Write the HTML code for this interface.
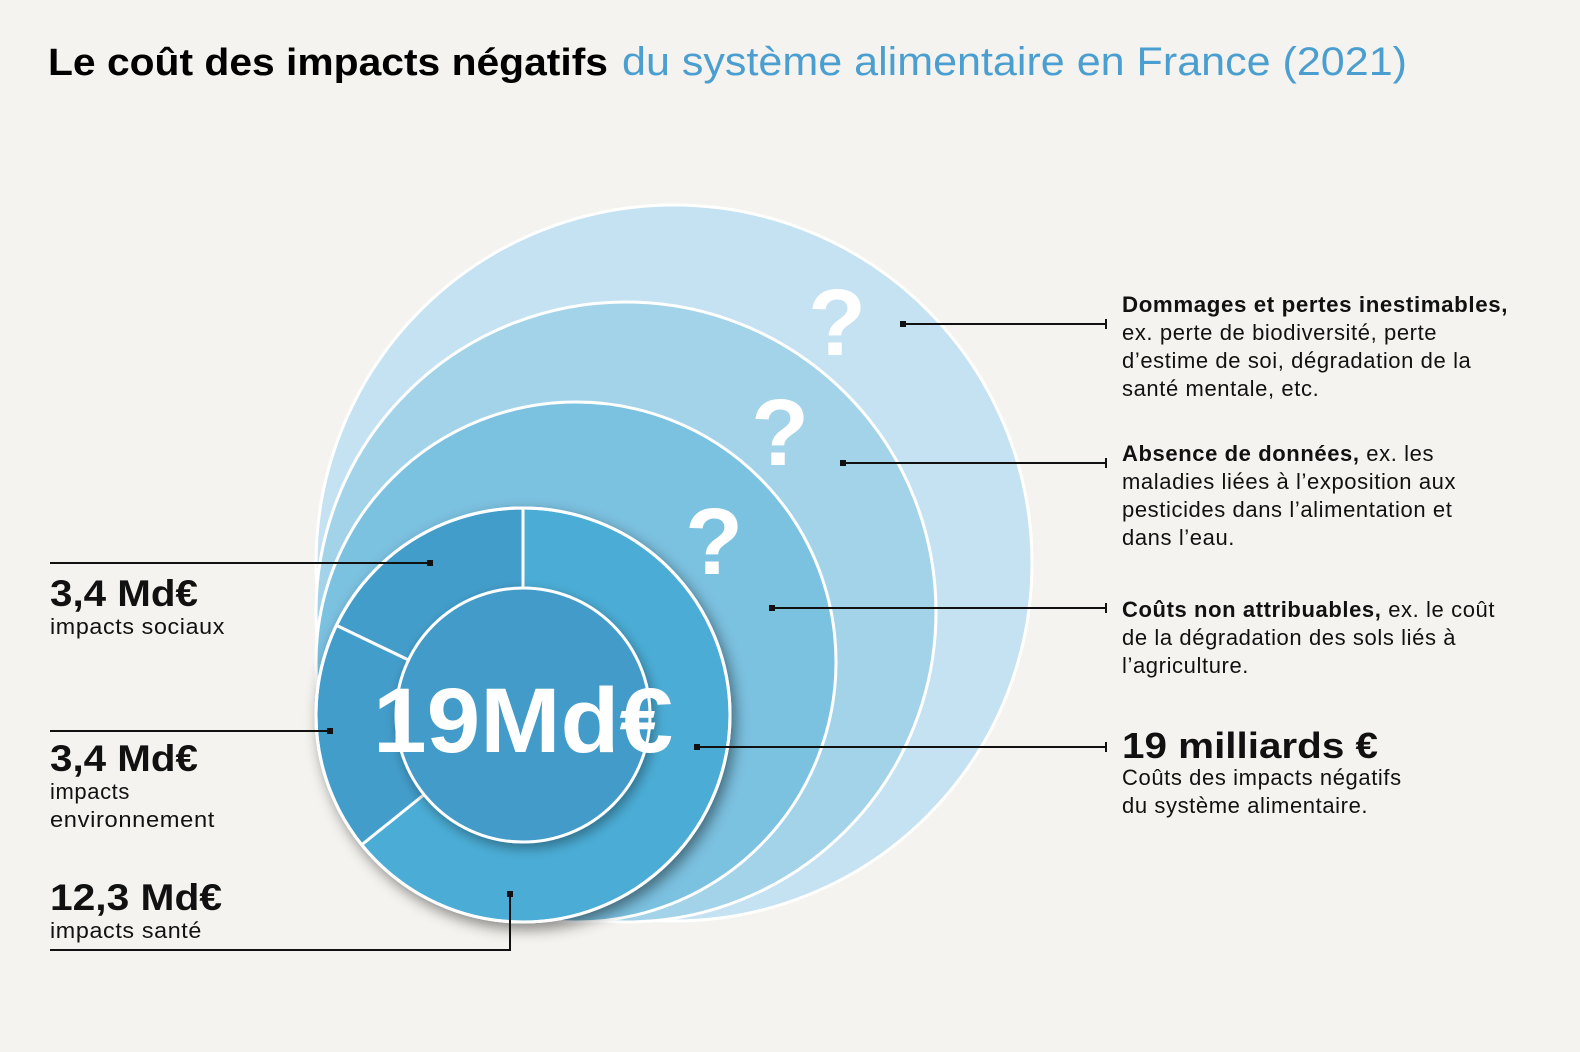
<!DOCTYPE html>
<html><head><meta charset="utf-8"><style>
html,body{margin:0;padding:0;background:#f4f3ef;}
svg{display:block;font-family:"Liberation Sans","DejaVu Sans",sans-serif;}
</style></head><body>
<svg width="1580" height="1052" viewBox="0 0 1580 1052">
<defs>
<filter id="sh" x="-30%" y="-30%" width="160%" height="160%"><feDropShadow dx="4" dy="6" stdDeviation="7" flood-color="#000" flood-opacity="0.45"/></filter>
<filter id="sh2" x="-30%" y="-30%" width="160%" height="160%"><feDropShadow dx="3" dy="5" stdDeviation="6" flood-color="#000" flood-opacity="0.35"/></filter>
</defs>
<rect width="1580" height="1052" fill="#f4f3ef"/>
<text x="48" y="75" font-size="38" font-weight="bold" fill="#000" textLength="560" lengthAdjust="spacingAndGlyphs">Le coût des impacts négatifs</text>
<text x="622" y="75" font-size="40" fill="#4a9fd0" textLength="785" lengthAdjust="spacingAndGlyphs">du système alimentaire en France (2021)</text>

<circle cx="674" cy="563" r="358" fill="#c5e2f2" stroke="#fff" stroke-width="3"/>
<circle cx="626" cy="612" r="310" fill="#a3d3e8" stroke="#fff" stroke-width="3"/>
<circle cx="576" cy="662" r="260" fill="#7bc1e0" stroke="#fff" stroke-width="3"/>
<g font-size="95" font-weight="bold" fill="#fff" text-anchor="middle">
<text x="837" y="355">?</text><text x="780" y="465">?</text><text x="714" y="574">?</text>
</g>
<g filter="url(#sh)">
<circle cx="523" cy="715" r="207" fill="#4badd6" stroke="#fff" stroke-width="3"/>
</g>
<path d="M523 715 L523 508 A207 207 0 0 0 336.4 625.4 Z" fill="#439dca" stroke="#fff" stroke-width="3"/>
<path d="M523 715 L336.4 625.4 A207 207 0 0 0 361.7 844.8 Z" fill="#439dca" stroke="#fff" stroke-width="3"/>
<circle cx="523" cy="715" r="207" fill="none" stroke="#fff" stroke-width="3"/>
<circle cx="523" cy="715" r="127" fill="#429bc8" stroke="#fff" stroke-width="3" filter="url(#sh2)"/>
<text x="523" y="752" font-size="92" font-weight="bold" fill="#fff" text-anchor="middle" textLength="300" lengthAdjust="spacingAndGlyphs">19Md€</text>

<g stroke="#111" stroke-width="2" fill="none">
<line x1="903" y1="324" x2="1106" y2="324"/><line x1="1106" y1="319" x2="1106" y2="329"/>
<line x1="843" y1="463" x2="1106" y2="463"/><line x1="1106" y1="458" x2="1106" y2="468"/>
<line x1="772" y1="608" x2="1106" y2="608"/><line x1="1106" y1="603" x2="1106" y2="613"/>
<line x1="697" y1="747" x2="1106" y2="747"/><line x1="1106" y1="742" x2="1106" y2="752"/>
<line x1="50" y1="563" x2="430" y2="563"/>
<line x1="50" y1="731" x2="330" y2="731"/>
<polyline points="50,950 510,950 510,894"/>
</g>
<g fill="#111">
<rect x="900" y="321" width="6" height="6"/><rect x="840" y="460" width="6" height="6"/>
<rect x="769" y="605" width="6" height="6"/><rect x="694" y="744" width="6" height="6"/>
<rect x="427" y="560" width="6" height="6"/><rect x="327" y="728" width="6" height="6"/>
<rect x="507" y="891" width="6" height="6"/>
</g>

<g font-size="22" fill="#111" letter-spacing="0.6">
<text x="1122" y="312" font-weight="bold" textLength="386" lengthAdjust="spacingAndGlyphs">Dommages et pertes inestimables,</text>
<text x="1122" y="340">ex. perte de biodiversité, perte</text>
<text x="1122" y="368">d’estime de soi, dégradation de la</text>
<text x="1122" y="396">santé mentale, etc.</text>
<text x="1122" y="461"><tspan font-weight="bold">Absence de données,</tspan> ex. les</text>
<text x="1122" y="489">maladies liées à l’exposition aux</text>
<text x="1122" y="517">pesticides dans l’alimentation et</text>
<text x="1122" y="545">dans l’eau.</text>
<text x="1122" y="617"><tspan font-weight="bold">Coûts non attribuables,</tspan> ex. le coût</text>
<text x="1122" y="645">de la dégradation des sols liés à</text>
<text x="1122" y="673">l’agriculture.</text>
<text x="1122" y="758" font-size="36" font-weight="bold" letter-spacing="0" textLength="256" lengthAdjust="spacingAndGlyphs">19 milliards €</text>
<text x="1122" y="785">Coûts des impacts négatifs</text>
<text x="1122" y="813">du système alimentaire.</text>
<text x="50" y="606" font-size="37" font-weight="bold" letter-spacing="0" textLength="148" lengthAdjust="spacingAndGlyphs">3,4 Md€</text>
<text x="50" y="634" textLength="175" lengthAdjust="spacingAndGlyphs">impacts sociaux</text>
<text x="50" y="771" font-size="37" font-weight="bold" letter-spacing="0" textLength="148" lengthAdjust="spacingAndGlyphs">3,4 Md€</text>
<text x="50" y="799">impacts</text>
<text x="50" y="827" textLength="165" lengthAdjust="spacingAndGlyphs">environnement</text>
<text x="50" y="910" font-size="37" font-weight="bold" letter-spacing="0" textLength="172" lengthAdjust="spacingAndGlyphs">12,3 Md€</text>
<text x="50" y="938" textLength="152" lengthAdjust="spacingAndGlyphs">impacts santé</text>
</g>
</svg>
</body></html>
